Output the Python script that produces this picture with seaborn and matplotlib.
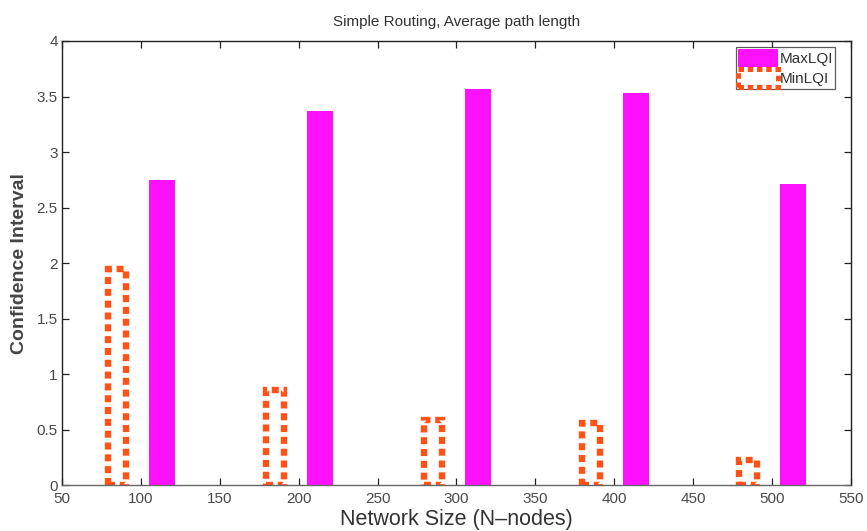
import numpy as np
import pandas as pd
import seaborn as sns
import matplotlib
matplotlib.use("Agg")
import matplotlib.pyplot as plt
from matplotlib.patches import Patch
from matplotlib.ticker import FuncFormatter

# Network sizes (number of nodes) and confidence-interval values per routing metric
network_sizes = [100, 200, 300, 400, 500]
max_lqi = [2.75, 3.37, 3.57, 3.53, 2.71]
min_lqi = [1.95, 0.86, 0.59, 0.56, 0.23]

x_ticks = [50, 100, 150, 200, 250, 300, 350, 400, 450, 500, 550]
y_ticks = [0, 0.5, 1, 1.5, 2, 2.5, 3, 3.5, 4]

MAX_COLOR = "#ff10ff"
MIN_COLOR = "#ff5216"
DOTS = (0, (1.1, 0.75))

sns.set_theme(style="white")
plt.rcParams["font.family"] = ["Liberation Sans", "DejaVu Sans"]

fig = plt.figure(figsize=(8.67, 5.31), dpi=100)
ax = fig.add_axes([0.0715, 0.0857, 0.9100, 0.8371])

sizes = np.array(network_sizes, dtype=float)
df_max = pd.DataFrame({"size": sizes + 13.5, "ci": max_lqi})
df_min = pd.DataFrame({"size": sizes - 15.0, "ci": min_lqi})

# MaxLQI: solid magenta bars
sns.barplot(data=df_max, x="size", y="ci", native_scale=True, width=0.165,
            color=MAX_COLOR, saturation=1, edgecolor="none", linewidth=0,
            errorbar=None, ax=ax)
n_max = len(ax.patches)

# MinLQI: hollow bars with a thick dotted outline
sns.barplot(data=df_min, x="size", y="ci", native_scale=True, width=0.115,
            color="white", saturation=1, errorbar=None, ax=ax)
for p in ax.patches[n_max:]:
    p.set_facecolor("none")
    p.set_edgecolor(MIN_COLOR)
    p.set_linewidth(4.6)
    p.set_linestyle(DOTS)
    p.set_joinstyle("miter")
    p.set_capstyle("butt")

ax.set_xlim(50, 550)
ax.set_ylim(0, 4)
ax.set_xticks(x_ticks)
ax.set_yticks(y_ticks)
ax.yaxis.set_major_formatter(FuncFormatter(lambda v, _: f"{v:g}"))
ax.xaxis.set_major_formatter(FuncFormatter(lambda v, _: f"{v:g}"))

ax.tick_params(axis="both", which="major", direction="in", length=5, width=0.9,
               colors="#222222", labelcolor="#4a4a4a", labelsize=11,
               top=True, right=True, bottom=True, left=True)
ax.tick_params(axis="x", pad=5)
ax.tick_params(axis="y", pad=3)
for side in ["top", "right", "bottom", "left"]:
    ax.spines[side].set_visible(True)
    ax.spines[side].set_color("#222222")
    ax.spines[side].set_linewidth(1.0)
ax.spines["bottom"].set_color("#666666")

ax.set_xlabel("Network Size (N\u2013nodes)", fontsize=15.5, color="#333333", labelpad=2)
ax.set_ylabel("Confidence Interval", fontsize=14, fontweight="bold",
              color="#444444", labelpad=6)
ax.set_title("Simple Routing, Average path length", fontsize=11, color="#333333", pad=11)

handles = [
    Patch(facecolor=MAX_COLOR, edgecolor="none", label="MaxLQI"),
    Patch(facecolor="none", edgecolor=MIN_COLOR, linewidth=3.6,
          linestyle=DOTS, label="MinLQI"),
]
leg = ax.legend(handles=handles, loc="upper right", bbox_to_anchor=(0.98, 0.987),
                fontsize=11, frameon=True, fancybox=False, handlelength=2.6,
                handleheight=1.4, handletextpad=0.1, borderpad=0.15,
                labelspacing=0.15, borderaxespad=0)
leg.get_frame().set_edgecolor("#333333")
leg.get_frame().set_linewidth(0.9)
for t in leg.get_texts():
    t.set_color("#333333")

fig.savefig("out.png", dpi=100, facecolor="white")
